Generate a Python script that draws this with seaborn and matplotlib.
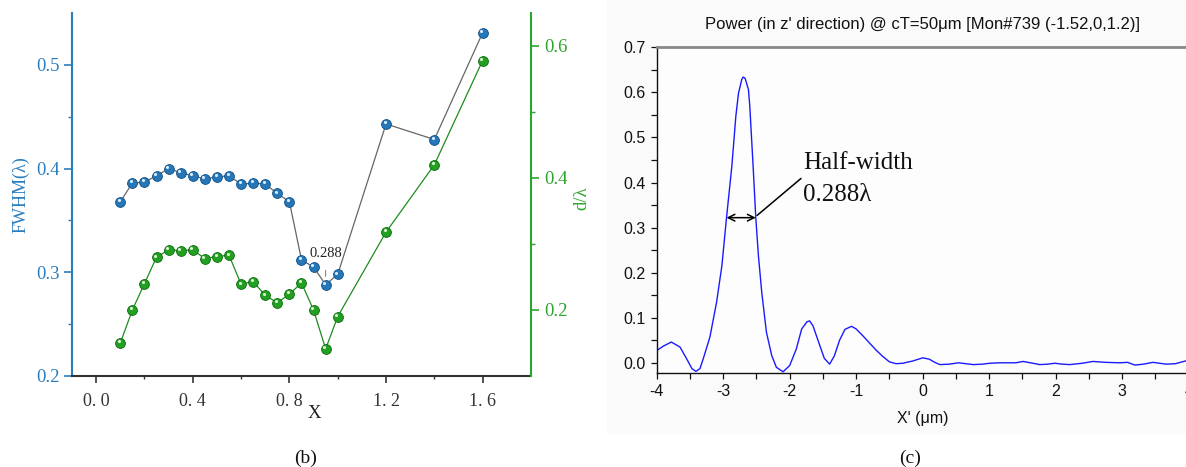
import numpy as np
import pandas as pd
import matplotlib
matplotlib.use("Agg")
import matplotlib.pyplot as plt
import matplotlib.transforms as mtrans
from matplotlib.ticker import FixedLocator, MultipleLocator, FormatStrFormatter
import seaborn as sns

# ---------------- data ----------------
x_ratio = [0.10, 0.15, 0.20, 0.25, 0.30, 0.35, 0.40, 0.45, 0.50, 0.55, 0.60, 0.65,
           0.70, 0.75, 0.80, 0.85, 0.90, 0.95, 1.00, 1.20, 1.40, 1.60]
fwhm = [0.368, 0.386, 0.387, 0.393, 0.400, 0.396, 0.393, 0.390, 0.392, 0.393, 0.385, 0.386,
        0.385, 0.376, 0.368, 0.312, 0.305, 0.288, 0.298, 0.443, 0.428, 0.531]
d_lambda = [0.150, 0.200, 0.240, 0.280, 0.291, 0.290, 0.291, 0.278, 0.281, 0.283, 0.239, 0.243,
            0.222, 0.211, 0.224, 0.241, 0.200, 0.141, 0.190, 0.318, 0.420, 0.578]
x_tick_vals = [0.0, 0.4, 0.8, 1.2, 1.6]
x_tick_labels = ["0. 0", "0. 4", "0. 8", "1. 2", "1. 6"]
min_annot_x, min_annot_y = 0.95, 0.288

xp_um = [-4.0, -3.90, -3.78, -3.65, -3.55, -3.47, -3.41, -3.35, -3.30, -3.20, -3.10, -3.02,
         -2.95, -2.87, -2.81, -2.77, -2.72, -2.70, -2.67, -2.62, -2.60, -2.55, -2.51, -2.47,
         -2.42, -2.35, -2.27, -2.20, -2.10, -2.00, -1.90, -1.82, -1.74, -1.70, -1.65, -1.57,
         -1.48, -1.40, -1.33, -1.25, -1.17, -1.07, -1.00, -0.90, -0.80, -0.70, -0.60, -0.50,
         -0.40, -0.30, -0.15, 0.0, 0.1, 0.18, 0.26, 0.4, 0.54, 0.65, 0.76, 0.9, 1.01, 1.15,
         1.26, 1.4, 1.51, 1.62, 1.76, 1.88, 1.99, 2.1, 2.21, 2.4, 2.56, 2.75, 2.96, 3.08,
         3.19, 3.32, 3.46, 3.56, 3.66, 3.8, 3.95, 4.0]
power = [0.027, 0.037, 0.046, 0.035, 0.009, -0.013, -0.019, -0.013, 0.009, 0.057, 0.134, 0.215,
         0.322, 0.436, 0.547, 0.598, 0.629, 0.634, 0.631, 0.606, 0.569, 0.436, 0.322, 0.237,
         0.156, 0.068, 0.016, -0.010, -0.020, -0.006, 0.031, 0.075, 0.091, 0.093, 0.082, 0.048,
         0.010, -0.003, 0.015, 0.050, 0.074, 0.081, 0.075, 0.060, 0.044, 0.028, 0.014, 0.002,
         -0.002, -0.001, 0.004, 0.011, 0.008, 0.001, -0.004, -0.003, 0.000, -0.002, -0.004,
         -0.003, -0.001, 0.000, 0.000, 0.000, 0.003, 0.000, -0.004, -0.003, -0.001, -0.003,
         -0.004, -0.001, 0.003, 0.001, 0.000, 0.001, -0.005, -0.003, 0.001, -0.001, -0.003,
         -0.002, 0.004, 0.005]
hw_left, hw_right, hw_level = -2.95, -2.51, 0.322

df_b = pd.DataFrame({"x": x_ratio, "fwhm": fwhm, "d": d_lambda})
df_c = pd.DataFrame({"x": xp_um, "p": power})

# ---------------- style ----------------
sns.set_style("ticks")
plt.rcParams["font.family"] = ["Liberation Serif", "DejaVu Serif"]
plt.rcParams["axes.unicode_minus"] = False

BLUE = "#2677b8"
BLUE_EDGE = "#0f4f86"
GREEN = "#22a022"
GREEN_EDGE = "#0c6a0c"
AX_BLUE = "#2a7dbd"
AX_GREEN = "#2da52d"

fig = plt.figure(figsize=(11.86, 4.67), dpi=100)
fig.patches.append(plt.Rectangle((607 / 1186, 1 - 433 / 467), 579 / 1186, 433 / 467,
                                 transform=fig.transFigure, color="#fafafa", zorder=-10))

# ---------------- panel (b) ----------------
ax1 = fig.add_axes([0.0607, 0.1949, 0.387, 0.7773])
ax1.set_facecolor("none")
ax2 = ax1.twinx()

sns.lineplot(data=df_b, x="x", y="fwhm", ax=ax1, color="#666666", lw=0.9, zorder=2)
sns.scatterplot(data=df_b, x="x", y="fwhm", ax=ax1, color=BLUE, edgecolor=BLUE_EDGE,
                linewidth=0.6, s=50, zorder=3)
hl1 = mtrans.offset_copy(ax1.transData, fig=fig, x=-1.0, y=1.2, units="points")
ax1.scatter(df_b["x"], df_b["fwhm"], s=5, color="#d8ecff", transform=hl1, zorder=4, linewidths=0)

sns.lineplot(data=df_b, x="x", y="d", ax=ax2, color="#1e8c1e", lw=0.9, zorder=2)
sns.scatterplot(data=df_b, x="x", y="d", ax=ax2, color=GREEN, edgecolor=GREEN_EDGE,
                linewidth=0.6, s=50, zorder=3)
hl2 = mtrans.offset_copy(ax2.transData, fig=fig, x=-1.0, y=1.2, units="points")
ax2.scatter(df_b["x"], df_b["d"], s=5, color="#d9f5d0", transform=hl2, zorder=4, linewidths=0)

ax1.set_xlim(-0.1, 1.8)
ax1.set_ylim(0.2, 0.55)
ax2.set_ylim(0.1, 0.65)

ax1.xaxis.set_major_locator(FixedLocator(x_tick_vals))
ax1.set_xticklabels(x_tick_labels)
ax1.xaxis.set_minor_locator(FixedLocator([0.2, 0.6, 1.0, 1.4]))
ax1.yaxis.set_major_locator(FixedLocator([0.2, 0.3, 0.4, 0.5]))
ax1.yaxis.set_minor_locator(FixedLocator([0.25, 0.35, 0.45]))
ax1.set_yticklabels(["0.2", "0.3", "0.4", "0.5"])
ax2.yaxis.set_major_locator(FixedLocator([0.2, 0.4, 0.6]))
ax2.yaxis.set_minor_locator(FixedLocator([0.3, 0.5]))
ax2.set_yticklabels(["0.2", "0.4", "0.6"])

for a in (ax1, ax2):
    a.spines["top"].set_visible(False)
ax1.spines["right"].set_visible(False)
ax2.spines["left"].set_visible(False)
ax2.spines["bottom"].set_visible(False)
ax1.spines["left"].set_color(AX_BLUE)
ax1.spines["left"].set_linewidth(1.5)
ax1.spines["bottom"].set_color("#333333")
ax1.spines["bottom"].set_linewidth(1.5)
ax2.spines["right"].set_color(AX_GREEN)
ax2.spines["right"].set_linewidth(1.5)

ax1.tick_params(axis="x", which="major", direction="out", length=5, width=1.2,
                colors="#333333", labelsize=13, pad=7)
ax1.tick_params(axis="x", which="minor", direction="out", length=2.5, width=1.0, colors="#333333")
ax1.tick_params(axis="y", which="major", direction="out", length=5.5, width=1.2,
                colors=AX_BLUE, labelsize=13.5, pad=3)
ax1.tick_params(axis="y", which="minor", direction="out", length=3, width=1.0, colors=AX_BLUE)
ax2.tick_params(axis="y", which="major", direction="out", length=5.5, width=1.2,
                colors=AX_GREEN, labelsize=13.5, pad=4)
ax2.tick_params(axis="y", which="minor", direction="out", length=3, width=1.0, colors=AX_GREEN)

ax1.set_xlabel("X", fontsize=13.5, color="#222222")
ax1.xaxis.set_label_coords(0.527, -0.08)
ax1.set_ylabel("FWHM(λ)", fontsize=13, color=AX_BLUE)
ax1.yaxis.set_label_coords(-0.0915, 0.5)
ax2.set_ylabel("d/λ", fontsize=13.5, color=AX_GREEN, rotation=90)
ax2.yaxis.set_label_coords(1.0915, 0.49)

ax1.annotate(f"{min_annot_y:.3f}", xy=(min_annot_x, min_annot_y + 0.008),
             xytext=(min_annot_x, min_annot_y + 0.030), ha="center", va="center",
             fontsize=10.5, color="#222222",
             arrowprops=dict(arrowstyle="-", color="#777777", lw=0.7, shrinkA=5, shrinkB=0))

fig.text(306 / 1186, 1 - 458 / 467, "(b)", ha="center", va="center", fontsize=14, color="#111111")

# ---------------- panel (c) ----------------
ax3 = fig.add_axes([0.5537, 0.2019, 0.4486, 0.6968])
ax3.set_facecolor("#fdfdfd")
sns.lineplot(data=df_c, x="x", y="p", ax=ax3, color="#1a1aff", lw=1.0, sort=False)
ax3.set_xlim(-4, 4)
ax3.set_ylim(-0.022, 0.7)
ax3.xaxis.set_major_locator(MultipleLocator(1))
ax3.xaxis.set_minor_locator(MultipleLocator(0.5))
ax3.yaxis.set_major_locator(MultipleLocator(0.1))
ax3.yaxis.set_minor_locator(MultipleLocator(0.05))
ax3.yaxis.set_major_formatter(FormatStrFormatter("%.1f"))
for sp in ("left", "bottom"):
    ax3.spines[sp].set_color("#111111")
    ax3.spines[sp].set_linewidth(1.0)
ax3.spines["top"].set_color("#888888")
ax3.spines["top"].set_linewidth(2.0)
ax3.spines["right"].set_visible(False)
sans = ["Liberation Sans", "DejaVu Sans"]
ax3.tick_params(axis="both", which="major", direction="out", length=4.5, width=0.9,
                colors="#111111", labelsize=11.5)
ax3.tick_params(axis="both", which="minor", direction="out", length=4, width=0.9, colors="#111111")
for lab in ax3.get_xticklabels() + ax3.get_yticklabels():
    lab.set_family(sans)
ax3.set_xlabel("X' (\u03bcm)", fontsize=11.5, family=sans, color="#111111")
ax3.xaxis.set_label_coords(0.5, -0.118)
ax3.set_ylabel("")
ax3.set_title("Power (in z' direction) @ cT=50\u03bcm [Mon#739 (-1.52,0,1.2)]",
              fontsize=12, family=sans, color="#111111", pad=13)

ax3.annotate("", xy=(hw_left, hw_level), xytext=(hw_right, hw_level),
             arrowprops=dict(arrowstyle="<->", color="black", lw=1.1, mutation_scale=12,
                             shrinkA=0, shrinkB=0))
ax3.plot([-2.49, -1.83], [0.327, 0.409], color="black", lw=1.1)
ax3.text(-1.80, 0.429, "Half-width", fontsize=18, color="#111111", ha="left", va="baseline")
ax3.text(-1.80, 0.360, f"{min_annot_y:.3f}λ", fontsize=18, color="#111111", ha="left", va="baseline")

fig.text(910 / 1186, 1 - 458 / 467, "(c)", ha="center", va="center", fontsize=14, color="#111111")

fig.savefig("out.png", dpi=100)
